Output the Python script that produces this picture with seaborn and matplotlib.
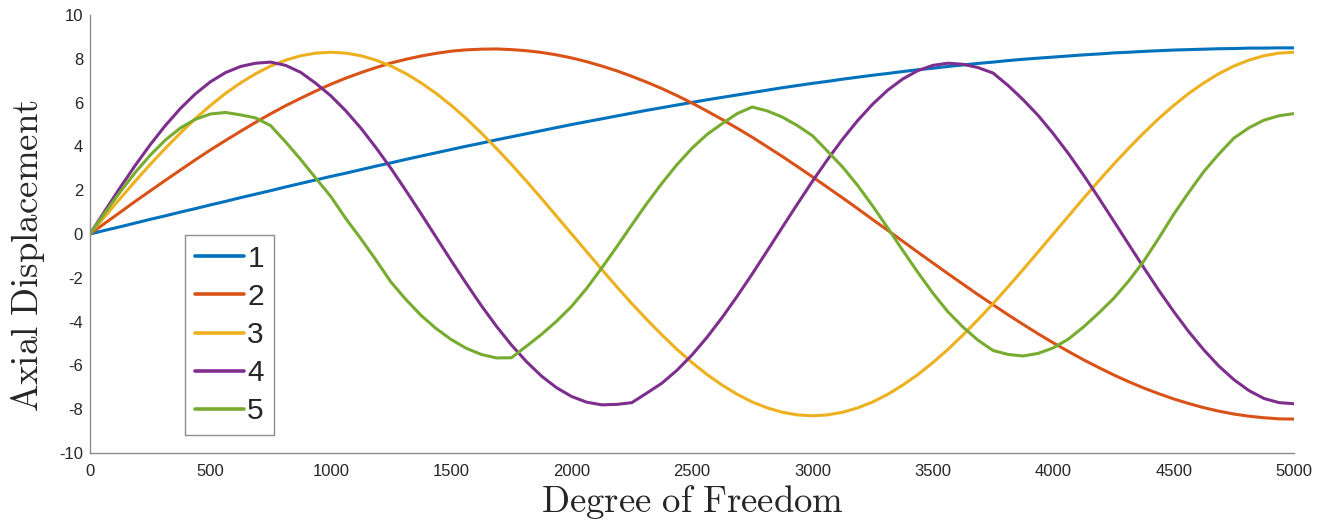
import numpy as np
import pandas as pd
import matplotlib
matplotlib.use("Agg")
import matplotlib.pyplot as plt
import seaborn as sns

# degree of freedom, read every 62.5
dof = np.arange(0, 5000.1, 62.5)

mode1 = [0.00, 0.17, 0.33, 0.50, 0.67, 0.83, 1.00, 1.16, 1.33, 1.49,
         1.66, 1.82, 1.98, 2.15, 2.31, 2.47, 2.63, 2.78, 2.94, 3.10,
         3.25, 3.41, 3.56, 3.71, 3.86, 4.01, 4.15, 4.30, 4.44, 4.58,
         4.72, 4.86, 5.00, 5.13, 5.26, 5.39, 5.52, 5.65, 5.77, 5.89,
         6.01, 6.13, 6.24, 6.35, 6.46, 6.57, 6.68, 6.78, 6.88, 6.97,
         7.07, 7.16, 7.25, 7.33, 7.42, 7.50, 7.57, 7.65, 7.72, 7.79,
         7.85, 7.92, 7.98, 8.03, 8.08, 8.13, 8.18, 8.22, 8.27, 8.30,
         8.34, 8.37, 8.40, 8.42, 8.44, 8.46, 8.47, 8.49, 8.49, 8.50,
         8.50]
mode2 = [0.00, 0.50, 0.99, 1.49, 1.97, 2.45, 2.92, 3.39, 3.84, 4.27,
         4.69, 5.10, 5.49, 5.86, 6.20, 6.53, 6.84, 7.12, 7.37, 7.60,
         7.81, 7.98, 8.13, 8.25, 8.35, 8.41, 8.44, 8.45, 8.42, 8.37,
         8.29, 8.18, 8.04, 7.87, 7.67, 7.45, 7.20, 6.93, 6.64, 6.32,
         5.98, 5.61, 5.23, 4.83, 4.42, 3.98, 3.54, 3.08, 2.61, 2.13,
         1.65, 1.16, 0.66, 0.17, -0.33, -0.83, -1.32, -1.81, -2.29, -2.77,
         -3.23, -3.69, -4.13, -4.56, -4.97, -5.36, -5.74, -6.09, -6.43, -6.74,
         -7.03, -7.29, -7.53, -7.74, -7.93, -8.09, -8.22, -8.32, -8.39, -8.44,
         -8.45]
mode3 = [0.00, 0.81, 1.62, 2.41, 3.18, 3.91, 4.61, 5.27, 5.87, 6.42,
         6.90, 7.32, 7.67, 7.94, 8.14, 8.26, 8.30, 8.26, 8.14, 7.94,
         7.67, 7.32, 6.90, 6.42, 5.87, 5.27, 4.61, 3.91, 3.18, 2.41,
         1.62, 0.81, 0.00, -0.81, -1.62, -2.41, -3.18, -3.91, -4.61, -5.27,
         -5.87, -6.42, -6.90, -7.32, -7.67, -7.94, -8.14, -8.26, -8.30, -8.26,
         -8.14, -7.94, -7.67, -7.32, -6.90, -6.42, -5.87, -5.27, -4.61, -3.91,
         -3.18, -2.41, -1.62, -0.81, 0.00, 0.81, 1.62, 2.41, 3.18, 3.91,
         4.61, 5.27, 5.87, 6.42, 6.90, 7.32, 7.67, 7.94, 8.14, 8.26,
         8.30]
mode4 = [0.00, 1.07, 2.12, 3.13, 4.08, 4.95, 5.73, 6.40, 6.95, 7.37,
         7.65, 7.80, 7.85, 7.70, 7.38, 6.88, 6.31, 5.62, 4.83, 3.94,
         2.99, 1.97, 0.92, -0.15, -1.22, -2.26, -3.27, -4.21, -5.07, -5.83,
         -6.49, -7.02, -7.42, -7.68, -7.80, -7.78, -7.70, -7.26, -6.81, -6.22,
         -5.52, -4.71, -3.81, -2.84, -1.82, -0.76, 0.31, 1.37, 2.41, 3.40,
         4.33, 5.18, 5.93, 6.57, 7.08, 7.46, 7.70, 7.80, 7.75, 7.60,
         7.35, 6.78, 6.13, 5.41, 4.58, 3.68, 2.70, 1.67, 0.61, -0.46,
         -1.52, -2.56, -3.54, -4.46, -5.29, -6.03, -6.65, -7.15, -7.51, -7.70,
         -7.75]
mode5 = [0.00, 0.98, 1.92, 2.81, 3.60, 4.29, 4.84, 5.24, 5.48, 5.55,
         5.44, 5.30, 4.95, 4.20, 3.40, 2.55, 1.71, 0.70, -0.22, -1.19,
         -2.20, -3.00, -3.72, -4.32, -4.82, -5.22, -5.50, -5.66, -5.65, -5.12,
         -4.58, -3.98, -3.30, -2.48, -1.55, -0.58, 0.42, 1.40, 2.32, 3.17,
         3.92, 4.55, 5.04, 5.50, 5.80, 5.62, 5.34, 4.95, 4.49, 3.78,
         3.06, 2.22, 1.28, 0.28, -0.75, -1.75, -2.70, -3.55, -4.25, -4.85,
         -5.32, -5.50, -5.57, -5.45, -5.20, -4.80, -4.25, -3.62, -2.95, -2.15,
         -1.25, -0.20, 0.90, 1.90, 2.85, 3.65, 4.38, 4.85, 5.20, 5.40,
         5.50]

mode_names = ["1", "2", "3", "4", "5"]
colors = ["#0072BD", "#D95319", "#EDB120", "#7E2F8E", "#77AC30"]

x_ticks = list(range(0, 5001, 500))
y_ticks = list(range(-10, 11, 2))

frames = []
for name, vals in zip(mode_names, [mode1, mode2, mode3, mode4, mode5]):
    frames.append(pd.DataFrame({"dof": dof, "disp": vals, "mode": name}))
df = pd.concat(frames, ignore_index=True)

sns.set_style("white")
plt.rcParams["font.family"] = ["Liberation Sans", "DejaVu Sans"]
plt.rcParams["mathtext.fontset"] = "cm"
plt.rcParams["axes.unicode_minus"] = False

fig = plt.figure(figsize=(13.3, 5.27), dpi=100)
ax = fig.add_axes([0.0677, 0.1404, 0.9053, 0.8311])

sns.lineplot(data=df, x="dof", y="disp", hue="mode", palette=colors,
             linewidth=2.2, ax=ax, sort=False)

ax.set_xlim(0, 5000)
ax.set_ylim(-10, 10)
ax.set_xticks(x_ticks)
ax.set_yticks(y_ticks)

for side in ["top", "right"]:
    ax.spines[side].set_visible(False)
for side in ["left", "bottom"]:
    ax.spines[side].set_color("#8c8c8c")
    ax.spines[side].set_linewidth(1.0)

ax.tick_params(axis="both", direction="in", length=8, width=1,
               color="#8c8c8c", labelcolor="#262626", labelsize=12)
ax.tick_params(axis="x", pad=8)
ax.tick_params(axis="y", pad=5)

ax.set_xlabel(r"$\mathrm{Degree\ of\ Freedom}$", fontsize=26.5, labelpad=3)
ax.set_ylabel(r"$\mathrm{Axial\ Displacement}$", fontsize=26.5)
ax.yaxis.set_label_coords(-0.036, 0.45)

handles, labels = ax.get_legend_handles_labels()
leg = ax.legend(handles, labels, loc="upper left", bbox_to_anchor=(0.079, 0.498),
                fontsize=21.5, frameon=True, fancybox=False, framealpha=1,
                edgecolor="#8c8c8c", handlelength=1.65, handletextpad=0.1,
                labelspacing=0.34, borderpad=0.33, borderaxespad=0)
leg.get_frame().set_linewidth(1.0)
for line in leg.get_lines():
    line.set_linewidth(2.6)

fig.savefig("out.png", dpi=100)
